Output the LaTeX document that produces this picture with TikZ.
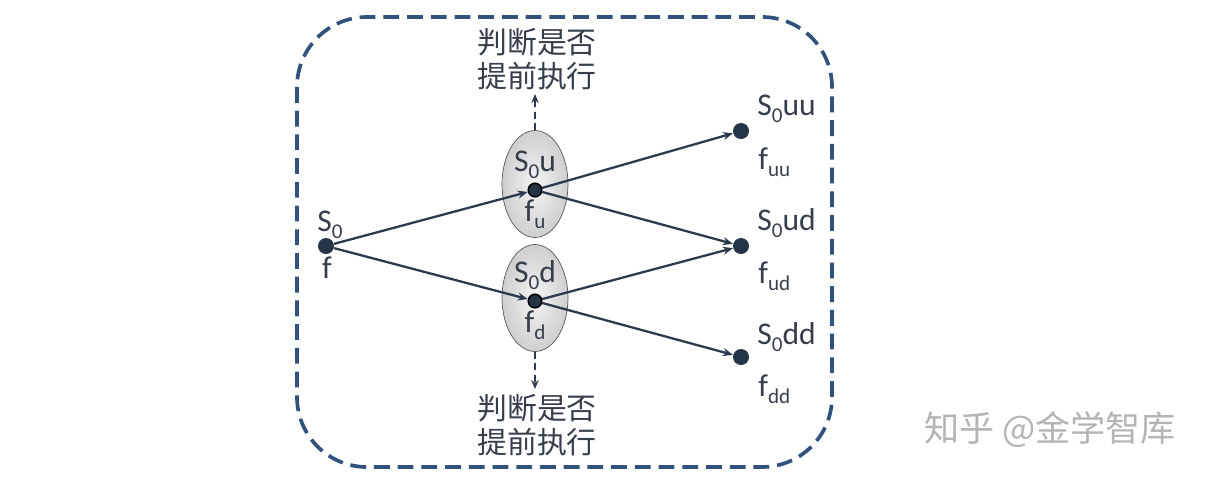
\documentclass[tikz,border=0pt]{standalone}
\usepackage{fontspec}
\setmainfont{Carlito}
\newfontfamily\cjkfont{Noto Sans CJK SC}
\usetikzlibrary{positioning,arrows.meta,shapes.geometric}
\definecolor{FrameBlue}{RGB}{50,82,126}
\definecolor{DotSlate}{RGB}{38,52,72}
\definecolor{LineSlate}{RGB}{45,58,78}
\definecolor{TextGray}{RGB}{55,62,75}
\definecolor{MarkGray}{RGB}{180,180,180}
\newcommand{\lowidx}[1]{\raisebox{-0.45ex}{\fontsize{12}{12}\selectfont #1}}
\tikzset{
  frame/.style={draw=FrameBlue,line width=2.1pt,dash pattern=on 9pt off 4.5pt,rounded corners=1.4cm},
  state/.style={circle,fill=DotSlate,inner sep=0pt,minimum size=0.32cm},
  midstate/.style={circle,fill=DotSlate,draw=black,line width=0.9pt,inner sep=0pt,minimum size=0.27cm},
  branch/.style={ellipse,draw=gray!70!black,thin,inner color=gray!8,outer color=gray!38,
    minimum width=1.32cm,minimum height=2.14cm,inner sep=0pt},
  flow/.style={-{Stealth[length=2mm,width=1.6mm]},line width=1.3pt,draw=LineSlate},
  checkflow/.style={-{Stealth[length=1.8mm,width=1.5mm]},line width=0.8pt,dash pattern=on 4pt off 2.5pt,draw=LineSlate},
  lbl/.style={font=\fontsize{18}{20}\selectfont,text=TextGray,inner sep=0pt},
  note/.style={font=\cjkfont\fontsize{17}{19.5}\selectfont,text=TextGray,align=center,inner sep=0pt}
}
\begin{document}
\begin{tikzpicture}[x=0.02cm,y=-0.02cm]
  \useasboundingbox (0,0) rectangle (1210,478);
  \draw[frame] (297,17) rectangle (832,467);
  % ellipses for the middle step
  \node[branch] (upbox) at (535,184) {};
  \node[branch] (downbox) at (535,298) {};
  % states
  \node[state] (s0) at (326,246) {};
  \node[midstate] (su) at (535,190) {};
  \node[midstate] (sd) at (535,301) {};
  \node[state] (suu) at (741,131) {};
  \node[state] (sud) at (741,246) {};
  \node[state] (sdd) at (741,357) {};
  % labels
  \node[lbl] (s0txt) at (330,225) {S\lowidx{0}};
  \node[lbl] (f0txt) at (327,268) {f};
  \node[lbl] (sutxt) at (535,165) {S\lowidx{0}u};
  \node[lbl] (futxt) at (535,214) {f\lowidx{u}};
  \node[lbl] (sdtxt) at (535,275) {S\lowidx{0}d};
  \node[lbl] (fdtxt) at (535,325) {f\lowidx{d}};
  \node[lbl,anchor=west] (suutxt) at (757,109) {S\lowidx{0}uu};
  \node[lbl,anchor=west] (fuutxt) at (758,162) {f\lowidx{uu}};
  \node[lbl,anchor=west] (sudtxt) at (757,223) {S\lowidx{0}ud};
  \node[lbl,anchor=west] (fudtxt) at (758,276) {f\lowidx{ud}};
  \node[lbl,anchor=west] (sddtxt) at (757,337) {S\lowidx{0}dd};
  \node[lbl,anchor=west] (fddtxt) at (758,389) {f\lowidx{dd}};
  % early exercise checks
  \node[note] (uptxt) at (537,59) {判断是否\\提前执行};
  \node[note] (downtxt) at (537,425) {判断是否\\提前执行};
  \coordinate (uptip) at (535,94);
  \coordinate (downtip) at (535,389);
  \draw[checkflow] (upbox.north) -- (uptip);
  \draw[checkflow] (downbox.south) -- (downtip);
  % tree
  \draw[flow] (s0) -- (su);
  \draw[flow] (s0) -- (sd);
  \draw[flow] (su) -- (suu);
  \draw[flow] (su) -- (sud);
  \draw[flow] (sd) -- (sud);
  \draw[flow] (sd) -- (sdd);
  % watermark
  \node[font=\cjkfont\fontsize{20}{22}\selectfont,text=MarkGray] (mark) at (1050,430) {知乎 @金学智库};
\end{tikzpicture}
\end{document}
